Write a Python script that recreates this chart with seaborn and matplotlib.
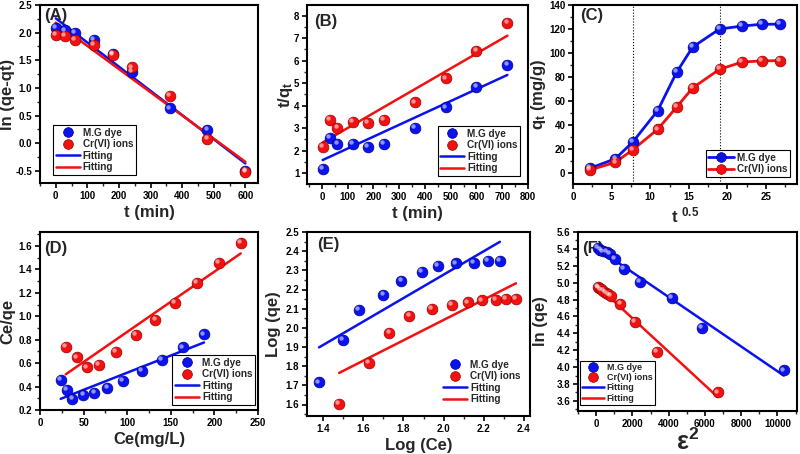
import numpy as np
import pandas as pd
import matplotlib
matplotlib.use("Agg")
import matplotlib.pyplot as plt
import matplotlib.transforms as mtransforms
from matplotlib.lines import Line2D
from matplotlib.ticker import MultipleLocator, FormatStrFormatter
import seaborn as sns

# (A) pseudo-first-order
a_t = [0, 30, 60, 120, 180, 240, 360, 480, 600]
a_mg = [2.08, 2.04, 2.00, 1.87, 1.62, 1.29, 0.63, 0.24, -0.50]
a_cr = [1.96, 1.94, 1.87, 1.78, 1.59, 1.37, 0.86, 0.08, -0.52]

# (B) pseudo-second-order
b_t = [3, 30, 60, 120, 180, 240, 360, 480, 600, 720]
b_mg = [1.18, 2.58, 2.31, 2.31, 2.16, 2.31, 3.00, 3.92, 4.83, 5.81]
b_cr = [2.18, 3.37, 3.00, 3.29, 3.25, 3.37, 4.14, 5.21, 6.43, 7.69]

# (C) intraparticle diffusion
c_t = [5, 30, 60, 120, 180, 240, 360, 480, 600, 720]
c_mg = [4.2, 12.0, 26.0, 52.0, 84.0, 105.0, 120.0, 122.5, 124.0, 124.0]
c_cr = [2.8, 9.0, 19.5, 36.5, 55.0, 71.0, 86.5, 92.5, 93.5, 93.7]
c_breaks = [60, 360]

# (D) Langmuir
d_ce_mg = [23.7, 31.3, 37.1, 49.7, 62.3, 77.2, 95.2, 116.6, 139.9, 163.7, 188.1]
d_y_mg = [0.454, 0.369, 0.298, 0.326, 0.346, 0.389, 0.446, 0.532, 0.626, 0.735, 0.846]
d_ce_cr = [29.5, 42.1, 53.6, 67.7, 87.5, 109.8, 132.3, 154.9, 179.7, 205.3, 230.2]
d_y_cr = [0.740, 0.649, 0.563, 0.583, 0.697, 0.840, 0.969, 1.117, 1.286, 1.457, 1.628]

# (E) Freundlich
e_x_mg = [1.38, 1.50, 1.58, 1.70, 1.79, 1.89, 1.97, 2.06, 2.15, 2.22, 2.28]
e_y_mg = [1.715, 1.937, 2.094, 2.173, 2.243, 2.292, 2.322, 2.336, 2.339, 2.348, 2.348]
e_x_cr = [1.48, 1.63, 1.73, 1.83, 1.94, 2.04, 2.12, 2.19, 2.26, 2.31, 2.36]
e_y_cr = [1.605, 1.815, 1.972, 2.062, 2.099, 2.118, 2.133, 2.143, 2.147, 2.150, 2.150]

# (F) Dubinin-Radushkevich
f_x_mg = [100, 240, 380, 600, 760, 1020, 1520, 2400, 4180, 5850, 10350]
f_y_mg = [5.41, 5.39, 5.37, 5.36, 5.34, 5.28, 5.16, 5.01, 4.82, 4.46, 3.96]
f_x_cr = [80, 170, 280, 400, 540, 680, 800, 1340, 2150, 3360, 6700]
f_y_cr = [4.95, 4.94, 4.92, 4.90, 4.88, 4.86, 4.84, 4.75, 4.54, 4.18, 3.70]

BLUE = "#0a12f0"
RED = "#f21010"
EDGE_B = "#00008a"
EDGE_R = "#9a0000"

sns.set_theme(style="ticks")
plt.rcParams["font.family"] = ["Liberation Sans", "DejaVu Sans"]
plt.rcParams["font.weight"] = "bold"
plt.rcParams["mathtext.fontset"] = "custom"
plt.rcParams["mathtext.rm"] = "Liberation Sans:bold"
plt.rcParams["mathtext.it"] = "Liberation Sans:bold"
plt.rcParams["mathtext.bf"] = "Liberation Sans:bold"
plt.rcParams["axes.linewidth"] = 1.5

fig = plt.figure(figsize=(8, 4.54), dpi=100)
W, H = 800, 454
LAB = 12


def make_ax(l, r, t, b):
    return fig.add_axes([l / W, 1 - b / H, (r - l) / W, (b - t) / H])


def balls(ax, x, y, col, edge):
    sns.scatterplot(x=x, y=y, ax=ax, color=col, s=60, edgecolor=edge,
                    linewidth=0.5, zorder=4, legend=False)
    hl = mtransforms.offset_copy(ax.transData, fig=fig, x=-1.3, y=1.3, units="points")
    ax.scatter(x, y, s=10, color="white", alpha=0.55, linewidths=0,
               transform=hl, zorder=5)


def fit_line(ax, x, y, col):
    k, b0 = np.polyfit(x, y, 1)
    xs = np.array([min(x), max(x)])
    df = pd.DataFrame({"x": xs, "y": k * xs + b0})
    sns.lineplot(data=df, x="x", y="y", ax=ax, color=col, lw=1.8, zorder=3)


def style(ax, tag, tx, ty, xmaj, xmin, ymaj, ymin, xfmt, yfmt):
    ax.xaxis.set_major_locator(MultipleLocator(xmaj))
    ax.xaxis.set_minor_locator(MultipleLocator(xmin))
    ax.yaxis.set_major_locator(MultipleLocator(ymaj))
    ax.yaxis.set_minor_locator(MultipleLocator(ymin))
    ax.xaxis.set_major_formatter(FormatStrFormatter(xfmt))
    ax.yaxis.set_major_formatter(FormatStrFormatter(yfmt))
    ax.tick_params(which="major", direction="out", length=3.5, width=1.2,
                   labelsize=7, pad=2, colors="black")
    ax.tick_params(which="minor", direction="out", length=2, width=1)
    for lab in ax.get_xticklabels() + ax.get_yticklabels():
        lab.set_fontweight("bold")
    for sp in ax.spines.values():
        sp.set_visible(True)
        sp.set_linewidth(1.5)
        sp.set_color("black")
    ax.text(tx, ty, tag, transform=ax.transAxes, fontsize=12,
            fontweight="bold", va="top", ha="left")


def labels(ax, xl, yl, ylx, xsize=LAB):
    ax.set_xlabel(xl, fontsize=xsize, fontweight="bold", labelpad=3)
    ax.set_ylabel(yl, fontsize=LAB, fontweight="bold")
    ax.yaxis.set_label_coords(ylx, 0.5)


def leg_fit(ax, loc, anchor, frame=True, fs=7.2):
    hs = [Line2D([], [], ls="", marker="o", ms=7, mfc=BLUE, mec=EDGE_B, mew=0.5),
          Line2D([], [], ls="", marker="o", ms=7, mfc=RED, mec=EDGE_R, mew=0.5),
          Line2D([], [], color=BLUE, lw=1.8),
          Line2D([], [], color=RED, lw=1.8)]
    lg = ax.legend(hs, ["M.G dye", "Cr(VI) ions", "Fitting", "Fitting"],
                   loc=loc, bbox_to_anchor=anchor, frameon=frame, fancybox=False,
                   edgecolor="black", framealpha=1, prop={"size": fs, "weight": "bold"},
                   handlelength=2.4, handletextpad=0.3, labelspacing=0.15,
                   borderpad=0.25, borderaxespad=0)
    lg.get_frame().set_linewidth(0.8)


# (A)
ax = make_ax(40, 258, 5, 183)
balls(ax, a_t, a_mg, BLUE, EDGE_B)
balls(ax, a_t, a_cr, RED, EDGE_R)
fit_line(ax, a_t, a_mg, BLUE)
fit_line(ax, a_t, a_cr, RED)
ax.set_xlim(-50, 640)
ax.set_ylim(-0.72, 2.5)
style(ax, "(A)", 0.02, 0.985, 100, 50, 0.5, 0.25, "%d", "%.1f")
labels(ax, "t (min)", "ln (qe-qt)", -0.115)
leg_fit(ax, "lower left", (0.06, 0.045))

# (B)
ax = make_ax(307, 528, 5, 184)
balls(ax, b_t, b_mg, BLUE, EDGE_B)
balls(ax, b_t, b_cr, RED, EDGE_R)
fit_line(ax, b_t, b_mg, BLUE)
fit_line(ax, b_t, b_cr, RED)
ax.set_xlim(-58, 800)
ax.set_ylim(0.52, 8.47)
style(ax, "(B)", 0.03, 0.95, 100, 50, 1, 0.5, "%d", "%d")
labels(ax, "t (min)", "t/q$_t$", -0.055)
leg_fit(ax, "lower right", (0.965, 0.045))

# (C)
ax = make_ax(573, 797, 5, 184)
c_x = np.sqrt(c_t)
for yy, col, edge in [(c_mg, BLUE, EDGE_B), (c_cr, RED, EDGE_R)]:
    sns.lineplot(x=c_x, y=yy, ax=ax, color=col, lw=2, zorder=3)
    balls(ax, c_x, yy, col, edge)
for tb in c_breaks:
    ax.axvline(np.sqrt(tb), color="black", ls=":", lw=0.8, zorder=1)
ax.set_xlim(0, 29)
ax.set_ylim(-9, 140)
style(ax, "(C)", 0.03, 0.985, 5, 2.5, 20, 10, "%d", "%d")
labels(ax, "t $^{0.5}$", "q$_t$ (mg/g)", -0.11)
hs = [Line2D([], [], color=BLUE, lw=2, marker="o", ms=7, mfc=BLUE, mec=EDGE_B, mew=0.5),
      Line2D([], [], color=RED, lw=2, marker="o", ms=7, mfc=RED, mec=EDGE_R, mew=0.5)]
lg = ax.legend(hs, ["M.G dye", "Cr(VI) ions"], loc="lower right", bbox_to_anchor=(0.97, 0.04),
               fancybox=False, edgecolor="black", framealpha=1,
               prop={"size": 7.2, "weight": "bold"}, handlelength=2.6, handletextpad=0.3,
               labelspacing=0.15, borderpad=0.25, borderaxespad=0)
lg.get_frame().set_linewidth(0.8)

# (D)
ax = make_ax(40, 258, 232, 410)
balls(ax, d_ce_mg, d_y_mg, BLUE, EDGE_B)
balls(ax, d_ce_cr, d_y_cr, RED, EDGE_R)
fit_line(ax, d_ce_mg, d_y_mg, BLUE)
fit_line(ax, d_ce_cr, d_y_cr, RED)
ax.set_xlim(0, 250)
ax.set_ylim(0.2, 1.72)
style(ax, "(D)", 0.02, 0.95, 50, 25, 0.2, 0.1, "%d", "%.1f")
labels(ax, "Ce(mg/L)", "Ce/qe", -0.115)
leg_fit(ax, "lower right", (0.986, 0.03))

# (E)
ax = make_ax(307, 530, 232, 416)
balls(ax, e_x_mg, e_y_mg, BLUE, EDGE_B)
balls(ax, e_x_cr, e_y_cr, RED, EDGE_R)
fit_line(ax, e_x_mg, e_y_mg, BLUE)
fit_line(ax, e_x_cr, e_y_cr, RED)
ax.set_xlim(1.32, 2.43)
ax.set_ylim(1.54, 2.5)
style(ax, "(E)", 0.045, 0.975, 0.2, 0.1, 0.1, 0.05, "%.1f", "%.1f")
labels(ax, "Log (Ce)", "Log (qe)", -0.117)
leg_fit(ax, "lower right", (0.97, 0.05), frame=False)

# (F)
ax = make_ax(578, 797, 232, 411)
balls(ax, f_x_mg, f_y_mg, BLUE, EDGE_B)
balls(ax, f_x_cr, f_y_cr, RED, EDGE_R)
fit_line(ax, f_x_mg, f_y_mg, BLUE)
fit_line(ax, f_x_cr, f_y_cr, RED)
ax.set_xlim(-1000, 11080)
ax.set_ylim(3.48, 5.6)
style(ax, "(F)", 0.02, 0.95, 2000, 1000, 0.2, 0.1, "%d", "%.1f")
labels(ax, "ε$^2$", "ln (qe)", -0.135, xsize=18)
ax.xaxis.labelpad = 0
leg_fit(ax, "lower left", (0.01, 0.033), fs=6.5)

fig.savefig("out.png", dpi=100)
